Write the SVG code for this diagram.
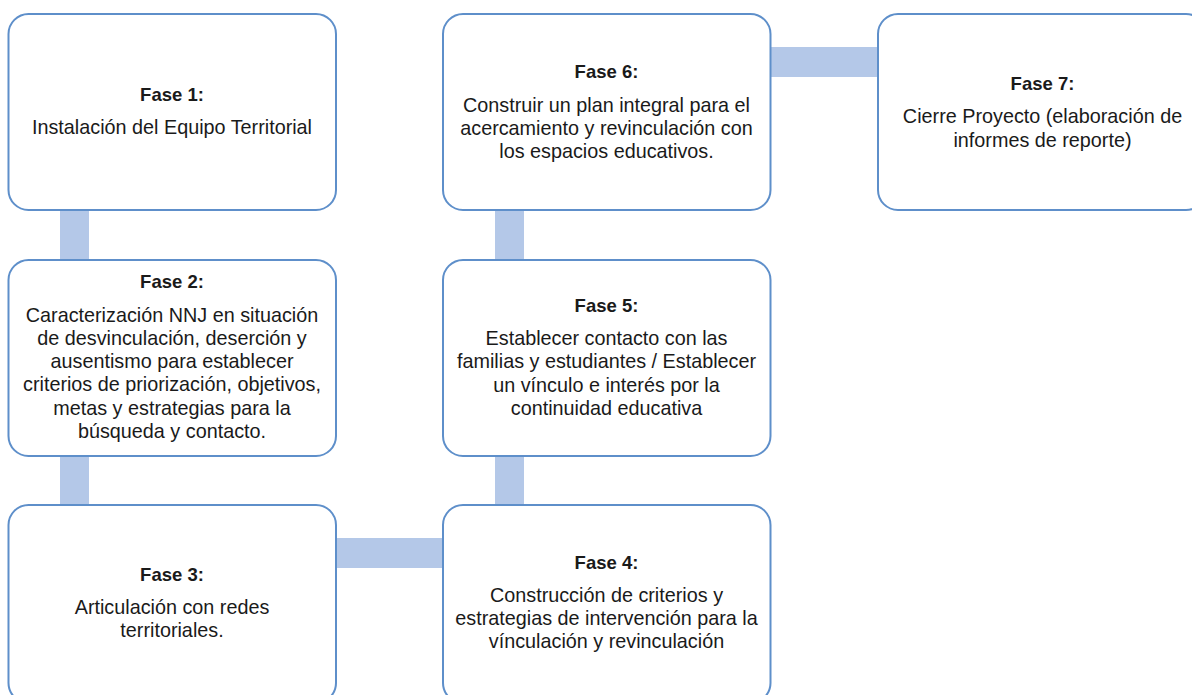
<svg xmlns="http://www.w3.org/2000/svg" width="1192" height="695" viewBox="0 0 1192 695">
<style>
.box{fill:#ffffff;stroke:#5E8FCA;stroke-width:2}
.conn{fill:#B4C8E8;stroke:none}
text{font-family:"Liberation Sans",Arial,sans-serif;font-size:19.8px;fill:#1a1a1a;text-anchor:middle}
.t{font-weight:bold;font-size:18.5px}
</style>
<rect width="1192" height="695" fill="#ffffff"/>
<g id="connectors">
<rect class="conn" x="60" y="210" width="29" height="50"/>
<rect class="conn" x="60" y="456" width="29" height="49"/>
<rect class="conn" x="336" y="538" width="107" height="30"/>
<rect class="conn" x="495" y="456" width="29" height="49"/>
<rect class="conn" x="495" y="210" width="29" height="50"/>
<rect class="conn" x="770" y="47" width="108" height="30"/>
</g>
<g id="fase1">
<rect class="box" x="8.5" y="14" width="327.5" height="196" rx="20"/>
<text x="172" y="101" class="t">Fase 1:</text>
<text x="172" y="134">Instalación del Equipo Territorial</text>
</g>
<g id="fase2">
<rect class="box" x="8.5" y="260" width="327.5" height="196" rx="20"/>
<text x="172" y="288" class="t">Fase 2:</text>
<text x="172" y="321.5">Caracterización NNJ en situación</text>
<text x="172" y="344.8">de desvinculación, deserción y</text>
<text x="172" y="368.1">ausentismo para establecer</text>
<text x="172" y="391.4">criterios de priorización, objetivos,</text>
<text x="172" y="414.7">metas y estrategias para la</text>
<text x="172" y="438">búsqueda y contacto.</text>
</g>
<g id="fase3">
<rect class="box" x="8.5" y="505" width="327.5" height="198" rx="20"/>
<text x="172" y="581" class="t">Fase 3:</text>
<text x="172" y="614">Articulación con redes</text>
<text x="172" y="637">territoriales.</text>
</g>
<g id="fase4">
<rect class="box" x="443" y="505" width="327.5" height="198" rx="20"/>
<text x="606.5" y="569" class="t">Fase 4:</text>
<text x="606.5" y="602">Construcción de criterios y</text>
<text x="606.5" y="625">estrategias de intervención para la</text>
<text x="606.5" y="648">vínculación y revinculación</text>
</g>
<g id="fase5">
<rect class="box" x="443" y="260" width="327.5" height="196" rx="20"/>
<text x="606.5" y="312" class="t">Fase 5:</text>
<text x="606.5" y="345">Establecer contacto con las</text>
<text x="606.5" y="368.3">familias y estudiantes / Establecer</text>
<text x="606.5" y="391.6">un vínculo e interés por la</text>
<text x="606.5" y="415">continuidad educativa</text>
</g>
<g id="fase6">
<rect class="box" x="443" y="14" width="327.5" height="196" rx="20"/>
<text x="606.5" y="78" class="t">Fase 6:</text>
<text x="606.5" y="111.5">Construir un plan integral para el</text>
<text x="606.5" y="134.8">acercamiento y revinculación con</text>
<text x="606.5" y="158">los espacios educativos.</text>
</g>
<g id="fase7">
<rect class="box" x="878" y="14" width="328" height="196" rx="20"/>
<text x="1042.5" y="90" class="t">Fase 7:</text>
<text x="1042.5" y="123">Cierre Proyecto (elaboración de</text>
<text x="1042.5" y="146.5">informes de reporte)</text>
</g>
</svg>
